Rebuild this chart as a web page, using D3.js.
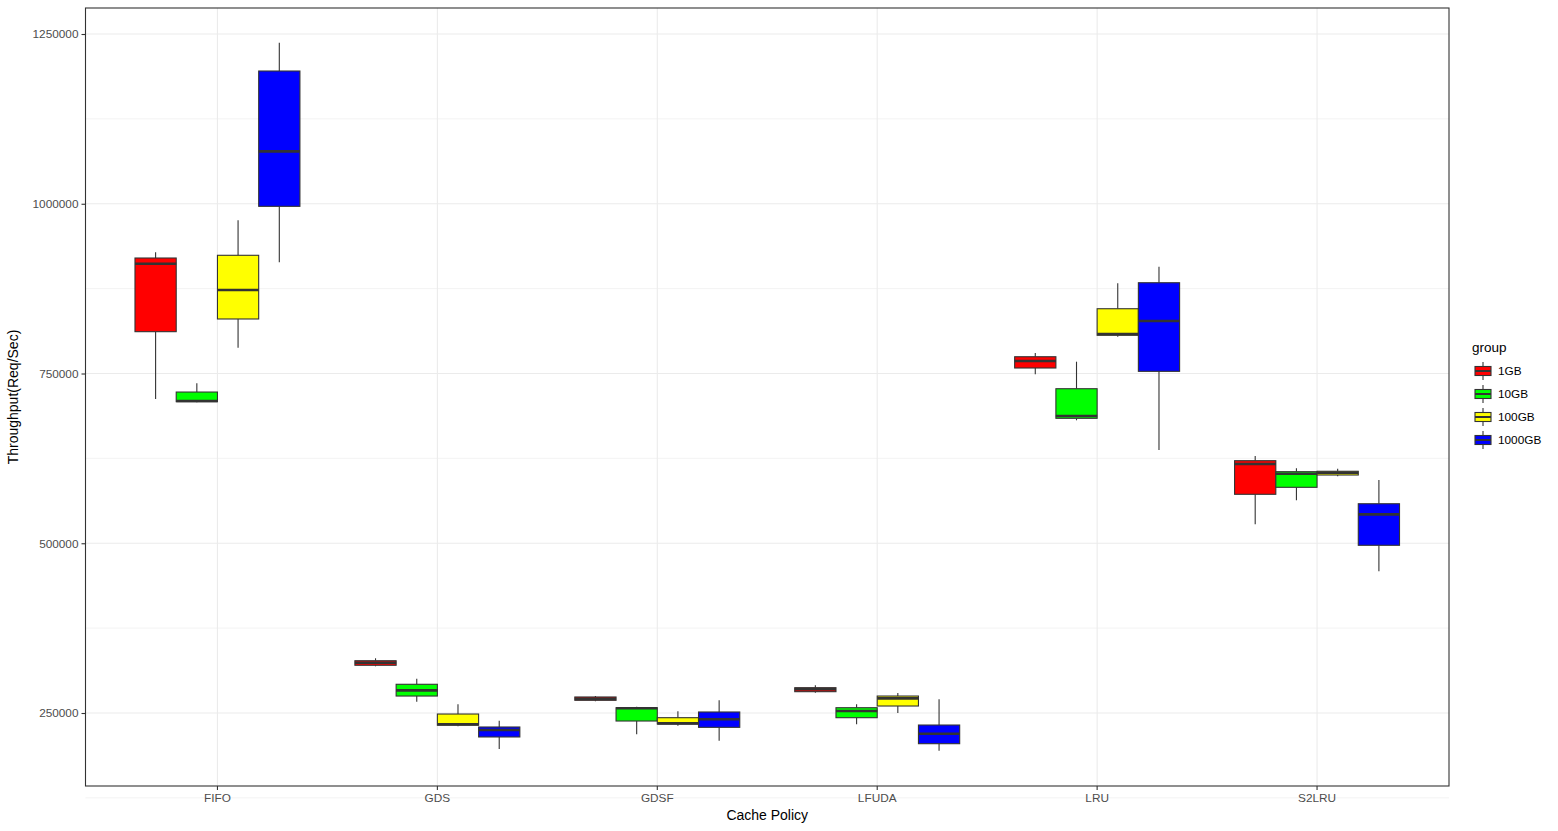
<!DOCTYPE html>
<html>
<head>
<meta charset="utf-8">
<script src="https://cdn.jsdelivr.net/npm/d3@7"></script>
<style>
  body { margin: 0; background: #fff; }
  svg { font-family: "Liberation Sans", Arial, sans-serif; }
</style>
</head>
<body>
<div id="chart"></div>
<script>
// cache policies on the x axis
const policies = ["FIFO", "GDS", "GDSF", "LFUDA", "LRU", "S2LRU"];
const groups = ["1GB", "10GB", "100GB", "1000GB"];
const groupColors = ["#ff0000", "#00ff00", "#ffff00", "#0000ff"];
const yTicks = [250000, 500000, 750000, 1000000, 1250000];

// [lower whisker, q1, median, q3, upper whisker] per policy
const stats1GB = [
  [712400, 811600, 911700, 920100, 928500],
  [318800, 320300, 324100, 327000, 330600],
  [267200, 268700, 271100, 273600, 275000],
  [279900, 281400, 284900, 287300, 290800],
  [748800, 758100, 768400, 774700, 780200],
  [527900, 572100, 616700, 621600, 628500]
];
const stats10GB = [
  [707500, 708500, 709500, 722700, 735600],
  [266600, 275000, 283400, 292300, 300500],
  [218600, 238200, 256900, 257800, 259300],
  [233400, 243100, 252900, 257800, 262800],
  [681100, 684000, 687400, 727600, 767400],
  [563300, 582400, 602400, 605400, 610400]
];
const stats100GB = [
  [788000, 830300, 873000, 924100, 975600],
  [230400, 232000, 233500, 248500, 262800],
  [231300, 233800, 234800, 243100, 252500],
  [250000, 260300, 271600, 275000, 279500],
  [804200, 806300, 808200, 845400, 882800],
  [598600, 600500, 603900, 606000, 609800]
];
const stats1000GB = [
  [913800, 996200, 1077200, 1195500, 1237200],
  [197000, 214700, 225000, 229400, 238700],
  [209200, 228900, 240700, 251500, 268700],
  [194500, 204800, 219500, 232300, 270200],
  [637300, 753200, 827300, 883700, 907300],
  [458700, 497000, 542600, 558200, 593200]
];
const allStats = [stats1GB, stats10GB, stats100GB, stats1000GB];

const boxes = [];
allStats.forEach((s, gi) => {
  s.forEach((d, pi) => {
    boxes.push({ policy: policies[pi], group: groups[gi], lo: d[0], q1: d[1], med: d[2], q3: d[3], hi: d[4] });
  });
});

const width = 1558;
const height = 831;
const margin = { top: 8, right: 109, bottom: 45, left: 85.5 };
const x0 = margin.left, x1p = width - margin.right;
const y0 = margin.top, y1p = height - margin.bottom;

const svg = d3.select("#chart").append("svg")
  .attr("width", width)
  .attr("height", height);

const x = d3.scaleBand()
  .domain(policies)
  .range([x0, x1p])
  .paddingOuter(0.1)
  .paddingInner(0);

// dodge: boxes take 0.75 of each band
const dodge = d3.scaleBand()
  .domain(groups)
  .range([0, x.bandwidth() * 0.75]);

const y = d3.scaleLinear()
  .domain([142500, 1288300])
  .range([y1p, y0]);

const color = d3.scaleOrdinal().domain(groups).range(groupColors);

// grid
const minorTicks = d3.range(125000, 1300000, 250000);
svg.append("g").selectAll("line")
  .data(minorTicks)
  .join("line")
  .attr("x1", x0).attr("x2", x1p)
  .attr("y1", d => y(d)).attr("y2", d => y(d))
  .attr("stroke", "#ebebeb").attr("stroke-width", 0.6);

svg.append("g").selectAll("line")
  .data(yTicks)
  .join("line")
  .attr("x1", x0).attr("x2", x1p)
  .attr("y1", d => y(d)).attr("y2", d => y(d))
  .attr("stroke", "#ebebeb").attr("stroke-width", 1.1);

svg.append("g").selectAll("line")
  .data(policies)
  .join("line")
  .attr("x1", d => x(d) + x.bandwidth() / 2).attr("x2", d => x(d) + x.bandwidth() / 2)
  .attr("y1", y0).attr("y2", y1p)
  .attr("stroke", "#ebebeb").attr("stroke-width", 1.1);

// boxes
const bx = d => x(d.policy) + x.bandwidth() * 0.125 + dodge(d.group);
const bw = dodge.bandwidth();

const g = svg.append("g").selectAll("g")
  .data(boxes)
  .join("g");

g.append("line")
  .attr("x1", d => bx(d) + bw / 2).attr("x2", d => bx(d) + bw / 2)
  .attr("y1", d => y(d.hi)).attr("y2", d => y(d.q3))
  .attr("stroke", "#333333").attr("stroke-width", 1.1);

g.append("line")
  .attr("x1", d => bx(d) + bw / 2).attr("x2", d => bx(d) + bw / 2)
  .attr("y1", d => y(d.q1)).attr("y2", d => y(d.lo))
  .attr("stroke", "#333333").attr("stroke-width", 1.1);

g.append("rect")
  .attr("x", d => bx(d))
  .attr("y", d => y(d.q3))
  .attr("width", bw)
  .attr("height", d => y(d.q1) - y(d.q3))
  .attr("fill", d => color(d.group))
  .attr("stroke", "#333333")
  .attr("stroke-width", 1.1);

g.append("line")
  .attr("x1", d => bx(d)).attr("x2", d => bx(d) + bw)
  .attr("y1", d => y(d.med)).attr("y2", d => y(d.med))
  .attr("stroke", "#333333").attr("stroke-width", 2.6);

// panel border
svg.append("rect")
  .attr("x", x0).attr("y", y0)
  .attr("width", x1p - x0).attr("height", y1p - y0)
  .attr("fill", "none")
  .attr("stroke", "#333333")
  .attr("stroke-width", 1.1);

// axes
const yAxis = svg.append("g")
  .attr("transform", `translate(${x0},0)`)
  .call(d3.axisLeft(y).tickValues(yTicks).tickFormat(d3.format("d")).tickSize(4).tickPadding(3));
yAxis.select(".domain").remove();
yAxis.selectAll("line").attr("stroke", "#333333").attr("stroke-width", 1.1);
yAxis.selectAll("text").attr("fill", "#4d4d4d").style("font-size", "11.8px");

const xAxis = svg.append("g")
  .attr("transform", `translate(0,${y1p})`)
  .call(d3.axisBottom(x).tickSize(4).tickPadding(4));
xAxis.select(".domain").remove();
xAxis.selectAll("line").attr("stroke", "#333333").attr("stroke-width", 1.1);
xAxis.selectAll("text").attr("fill", "#4d4d4d").style("font-size", "11.8px");

svg.append("text")
  .attr("x", (x0 + x1p) / 2)
  .attr("y", 820)
  .attr("text-anchor", "middle")
  .style("font-size", "14px")
  .text("Cache Policy");

svg.append("text")
  .attr("transform", `translate(18,${(y0 + y1p) / 2}) rotate(-90)`)
  .attr("text-anchor", "middle")
  .style("font-size", "14px")
  .text("Throughput(Req/Sec)");

// legend
const legend = svg.append("g")
  .attr("transform", `translate(1472, 352)`);

legend.append("text")
  .attr("x", 0).attr("y", 0)
  .style("font-size", "13.5px")
  .text("group");

groups.forEach((grp, i) => {
  const k = legend.append("g")
    .attr("transform", `translate(2, ${10 + i * 23})`);
  k.append("line")
    .attr("x1", 9).attr("x2", 9).attr("y1", 0).attr("y2", 18)
    .attr("stroke", "#333333").attr("stroke-width", 1.1);
  k.append("rect")
    .attr("x", 1).attr("y", 4.5)
    .attr("width", 16).attr("height", 9)
    .attr("fill", color(grp))
    .attr("stroke", "#333333").attr("stroke-width", 1.1);
  k.append("line")
    .attr("x1", 1).attr("x2", 17).attr("y1", 9).attr("y2", 9)
    .attr("stroke", "#333333").attr("stroke-width", 2);
  k.append("text")
    .attr("x", 24).attr("y", 9)
    .attr("dy", "0.35em")
    .style("font-size", "11.8px")
    .text(grp);
});
</script>
</body>
</html>
